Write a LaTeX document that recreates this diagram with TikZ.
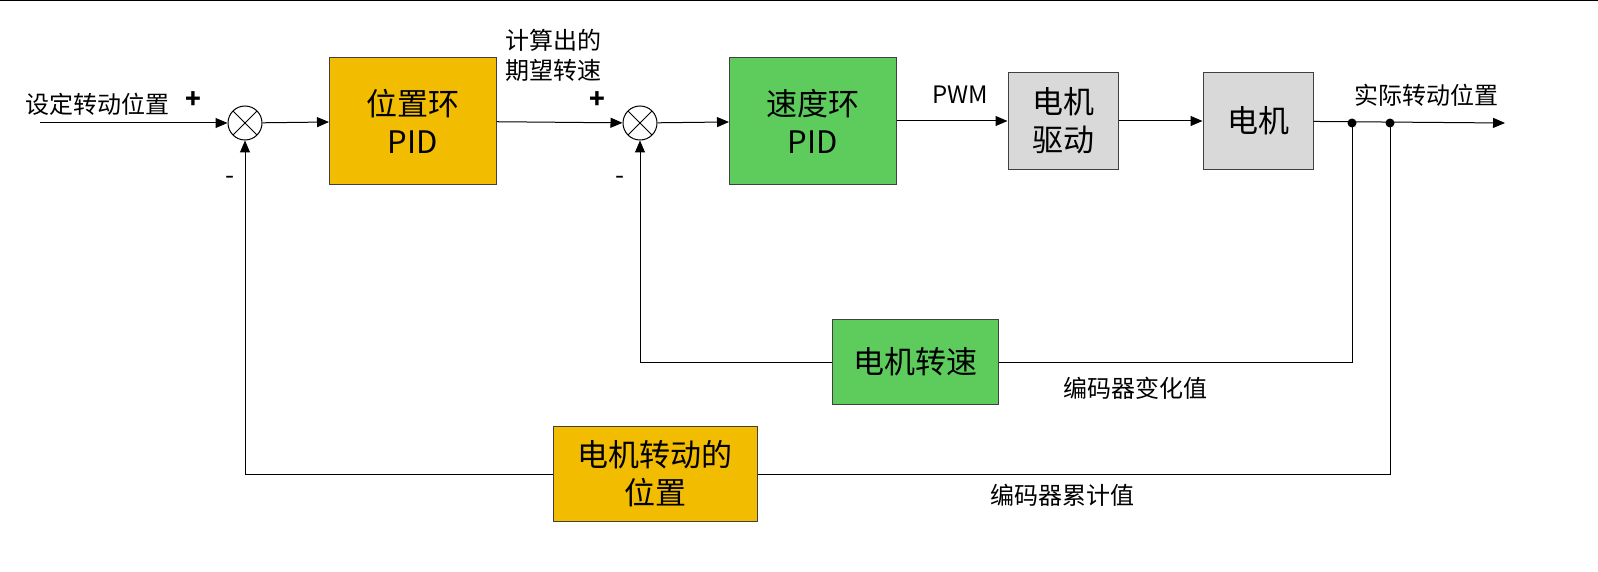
\documentclass[tikz,border=0pt]{standalone}
\usepackage{fontspec}
\setmainfont{Noto Sans CJK SC}
\usetikzlibrary{arrows.meta}
\definecolor{org}{HTML}{F2BC00}
\definecolor{grn}{HTML}{5DCC5D}
\definecolor{gry}{HTML}{D9D9D9}
\begin{document}
\begin{tikzpicture}[x=1pt,y=-1pt,
 box/.style={draw=black!75,line width=1pt,inner sep=0pt,align=center,font=\fontsize{31}{38}\selectfont},
 sum/.style={draw,circle,line width=1pt,minimum size=34pt,inner sep=0pt,path picture={\draw[line width=1pt] (path picture bounding box.north west)--(path picture bounding box.south east) (path picture bounding box.north east)--(path picture bounding box.south west);}},
 lbl/.style={font=\fontsize{24}{30}\selectfont,inner sep=0pt,align=left},
 ar/.style={line width=1pt,-{Triangle[length=12pt,width=10pt]}},
 ln/.style={line width=1pt}]
\useasboundingbox (0,0) rectangle (1598,572);
\fill[white] (0,0) rectangle (1598,572);
\draw[line width=1.5pt] (0,0.75)--(1598,0.75);
\node[sum] (s1) at (245,123) {};
\node[sum] (s2) at (640,123) {};
\node[box,fill=org,minimum width=167pt,minimum height=127pt] (p1) at (413,121) {位置环\\PID};
\node[box,fill=grn,minimum width=167pt,minimum height=127pt] (p2) at (813,121) {速度环\\PID};
\node[box,fill=gry,minimum width=110pt,minimum height=97pt] (d) at (1063,121) {电机\\驱动};
\node[box,fill=gry,minimum width=110pt,minimum height=97pt] (m) at (1258,121) {电机};
\node[box,fill=grn,minimum width=166pt,minimum height=85pt] (f1) at (915,362) {电机转速};
\node[box,fill=org,minimum width=204pt,minimum height=95pt] (f2) at (655,474) {电机转动的\\位置};
\coordinate (in) at (40,123);
\coordinate (out) at (1505,123);
\coordinate (j1) at (1352,123);
\coordinate (j2) at (1390,123);
\node[lbl,anchor=west] (t1) at (25,104) {设定转动位置};
\node[font=\fontsize{26}{26}\selectfont\bfseries,inner sep=0pt] (pl1) at (193,100) {+};
\node[font=\fontsize{26}{26}\selectfont\bfseries,inner sep=0pt] (pl2) at (597,100) {+};
\node[font=\fontsize{26}{26}\selectfont,inner sep=0pt] (mi1) at (230,180) {-};
\node[font=\fontsize{26}{26}\selectfont,inner sep=0pt] (mi2) at (620,180) {-};
\node[lbl] (t2) at (553,55) {计算出的\\期望转速};
\node[lbl] (t3) at (960,95) {PWM};
\node[lbl] (t4) at (1426,95) {实际转动位置};
\node[lbl] (t5) at (1135,388) {编码器变化值};
\node[lbl] (t6) at (1062,495) {编码器累计值};
\draw[ar] (in)--(s1);
\draw[ar] (s1)--(p1);
\draw[ar] (p1)--(s2);
\draw[ar] (s2)--(p2);
\draw[ar] (p2)--(d);
\draw[ar] (d)--(m);
\draw[ar] (m)--(out);
\fill (j1) circle (4.5pt) (j2) circle (4.5pt);
\draw[ln] (j1)|-(f1.east);
\draw[ar] (f1.west)-|(s2.south);
\draw[ln] (j2)|-(f2.east);
\draw[ar] (f2.west)-|(s1.south);
\end{tikzpicture}
\end{document}
